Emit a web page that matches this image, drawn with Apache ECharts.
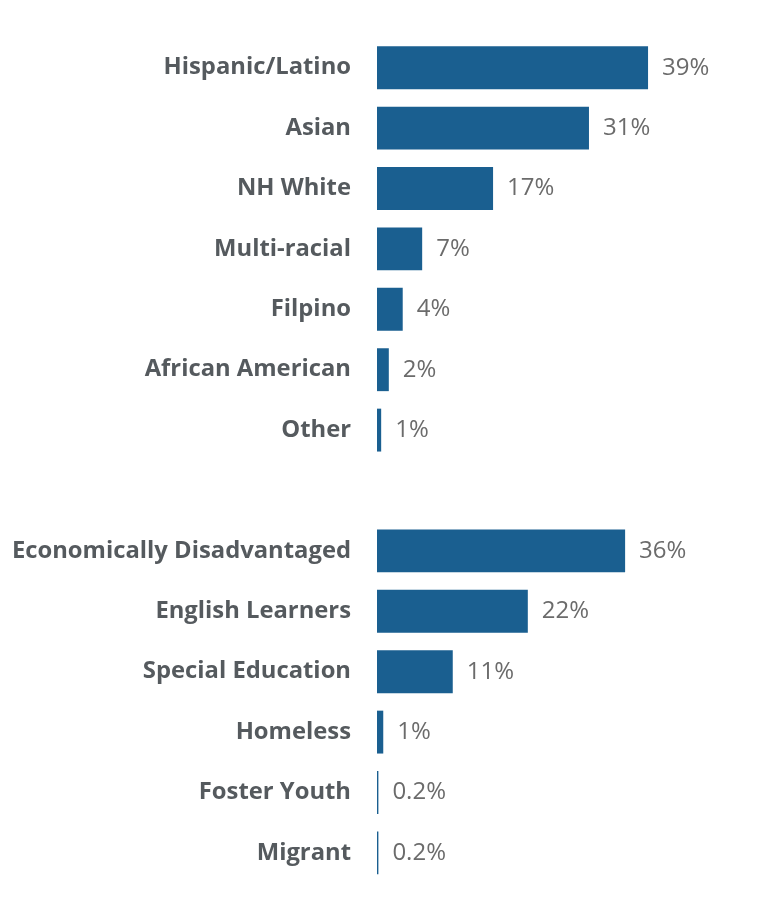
<!DOCTYPE html>
<html>
<head>
<meta charset="utf-8">
<script src="https://cdn.jsdelivr.net/npm/echarts@6/dist/echarts.min.js"></script>
<style>
html,body{margin:0;padding:0;background:#fff;}
#chart{width:782px;height:914px;}
</style>
</head>
<body>
<div id="chart"></div>
<script>
var categories = ['Hispanic/Latino','Asian','NH White','Multi-racial','Filpino','African American','Other','',
  'Economically Disadvantaged','English Learners','Special Education','Homeless','Foster Youth','Migrant'];
var values = [39.0, 30.5, 16.7, 6.5, 3.7, 1.7, 0.6, null, 35.7, 21.7, 10.9, 0.9, 0.2, 0.2];
var valueLabels = ['39%','31%','17%','7%','4%','2%','1%','', '36%','22%','11%','1%','0.2%','0.2%'];

var chart = echarts.init(document.getElementById('chart'));
chart.setOption({
  animation:false,
  grid:{left:377, top:37.5, width:347.5, height:845.6, containLabel:false},
  xAxis:{type:'value', min:0, max:50, show:false},
  yAxis:{type:'category', data:categories, inverse:true,
    axisLine:{show:false}, axisTick:{show:false},
    axisLabel:{margin:26, color:'#555a5e', fontFamily:'Open Sans', fontWeight:'bold', fontSize:23.8}},
  series:[{
    type:'bar', data:values, barCategoryGap:'29%',
    itemStyle:{color:'#1a5f90'},
    label:{show:true, position:'right', distance:14, color:'#6b6b6b', fontFamily:'Open Sans', fontSize:24,
      formatter:function(p){return valueLabels[p.dataIndex];}}
  }]
});
</script>
</body>
</html>
